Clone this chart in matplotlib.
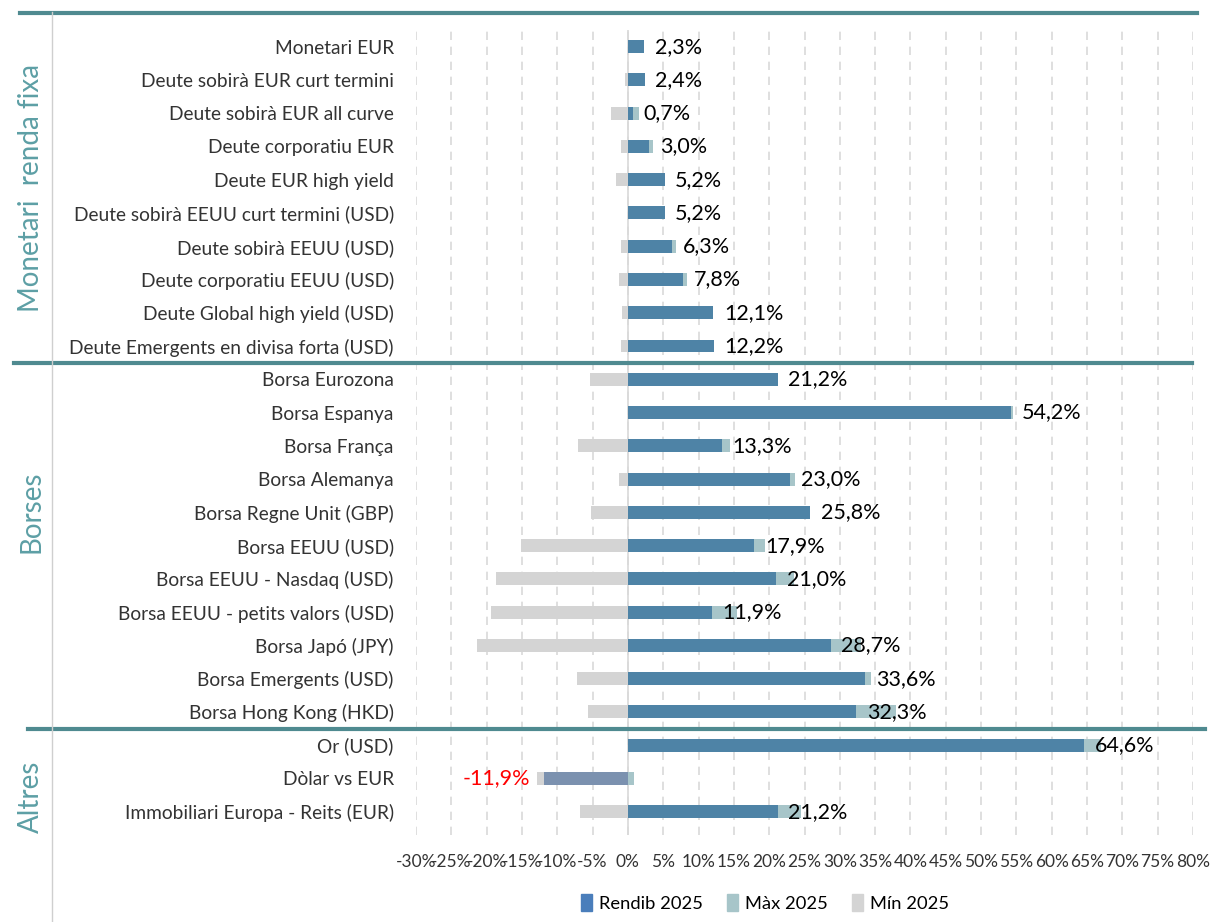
import numpy as np
import matplotlib
matplotlib.use("Agg")
import matplotlib.pyplot as plt
from matplotlib.patches import Patch
from matplotlib.lines import Line2D
import matplotlib.transforms as mtransforms

plt.rcParams['font.family'] = ['Lato', 'DejaVu Sans']

categories = [
    "Monetari EUR", "Deute sobirà EUR curt termini", "Deute sobirà EUR all curve",
    "Deute corporatiu EUR", "Deute EUR high yield", "Deute sobirà EEUU curt termini (USD)",
    "Deute sobirà EEUU (USD)", "Deute corporatiu EEUU (USD)", "Deute Global high yield (USD)",
    "Deute Emergents en divisa forta (USD)",
    "Borsa Eurozona", "Borsa Espanya", "Borsa França", "Borsa Alemanya",
    "Borsa Regne Unit (GBP)", "Borsa EEUU (USD)", "Borsa EEUU - Nasdaq (USD)",
    "Borsa EEUU - petits valors (USD)", "Borsa Japó (JPY)", "Borsa Emergents (USD)",
    "Borsa Hong Kong (HKD)",
    "Or (USD)", "Dòlar vs EUR", "Immobiliari Europa - Reits (EUR)",
]
rendib = [2.3, 2.4, 0.7, 3.0, 5.2, 5.2, 6.3, 7.8, 12.1, 12.2,
          21.2, 54.2, 13.3, 23.0, 25.8, 17.9, 21.0, 11.9, 28.7, 33.6, 32.3,
          64.6, -11.9, 21.2]
maxim = [2.3, 2.4, 1.6, 3.5, 5.2, 5.2, 6.8, 8.3, 12.1, 12.2,
         21.2, 54.5, 14.5, 23.6, 25.8, 19.4, 23.5, 15.5, 33.0, 34.4, 38.0,
         67.0, 0.9, 24.5]
minim = [0.0, -0.4, -2.4, -1.0, -1.7, 0.0, -1.0, -1.3, -0.9, -1.0,
         -5.4, 0.0, -7.0, -1.3, -5.2, -15.2, -18.7, -19.4, -21.4, -7.2, -5.7,
         0.0, -12.9, -6.8]
groups = ["Monetari  renda fixa", "Borses", "Altres"]

c_rend = "#4e83a6"
c_dolar = "#7b91af"
c_max = "#a7c5c9"
c_min = "#d4d4d4"
c_sep = "#4f8a90"
c_group = "#5d9fa5"

fig = plt.figure(figsize=(12.17, 9.22), dpi=100)
ax = fig.add_axes([416/1217, 1-835/922, (1193-416)/1217, (835-30)/922])

y = np.arange(len(categories))
h = 0.39
ax.barh(y, minim, height=h, color=c_min, zorder=2)
ax.barh(y, maxim, height=h, color=c_max, zorder=3)
rcols = [c_dolar if v < 0 else c_rend for v in rendib]
ax.barh(y, rendib, height=h, color=rcols, zorder=4)

for i, v in enumerate(rendib):
    txt = f"{v:.1f}%".replace(".", ",")
    if v < 0:
        ax.text(minim[i] - 1.0, i, txt, color="red", fontsize=15.5,
                ha="right", va="center", zorder=5)
    else:
        ax.text(v + 1.5, i, txt, color="black", fontsize=15.5,
                ha="left", va="center", zorder=5)

ax.set_xlim(-30, 80)
ax.set_ylim(23.7, -0.5)
ax.set_yticks(y)
ax.set_yticklabels(categories, fontsize=13.8, color="#333333")
ax.tick_params(axis="y", length=0, pad=16)

ticks = np.arange(-30, 81, 5)
ax.set_xticks(ticks)
ax.set_xticklabels([f"{t}%" for t in ticks], fontsize=12.5, color="#333333")
ax.tick_params(axis="x", length=0, pad=14)
ax.grid(axis="x", color="#d9d9d9", linestyle=(0, (5, 4)), linewidth=1.2, zorder=0)
ax.axvline(0, color="#d9d9d9", linewidth=1.2, zorder=1)
for s in ax.spines.values():
    s.set_visible(False)

# separators and group labels
tr = mtransforms.blended_transform_factory(fig.transFigure, ax.transData)
for yy, x0, x1 in [(-1.0, 20/1217, 1197/1217), (9.5, 14/1217, 1192/1217),
                   (20.5, 28/1217, 1205/1217)]:
    fig.add_artist(Line2D([x0, x1], [yy, yy], transform=tr, color=c_sep,
                          linewidth=3, clip_on=False))
fig.add_artist(Line2D([52/1217, 52/1217], [0, 1-12/922], transform=fig.transFigure,
                      color="#cfcfcf", linewidth=1))
for g, yp in zip(groups, [188, 512, 797]):
    fig.text(31/1217, 1-yp/922, g, rotation=90, ha="center", va="center",
             fontsize=20, color=c_group)

handles = [Patch(color="#4a7ebb"), Patch(color=c_max), Patch(color=c_min)]
fig.legend(handles, ["Rendib 2025", "Màx 2025", "Mín 2025"], loc="center",
           bbox_to_anchor=(765/1217, 1-903/922), ncol=3, frameon=False,
           fontsize=13.2, handlelength=0.6, handleheight=1.0, handletextpad=0.4,
           columnspacing=1.3)

fig.savefig("out.png", dpi=100)
